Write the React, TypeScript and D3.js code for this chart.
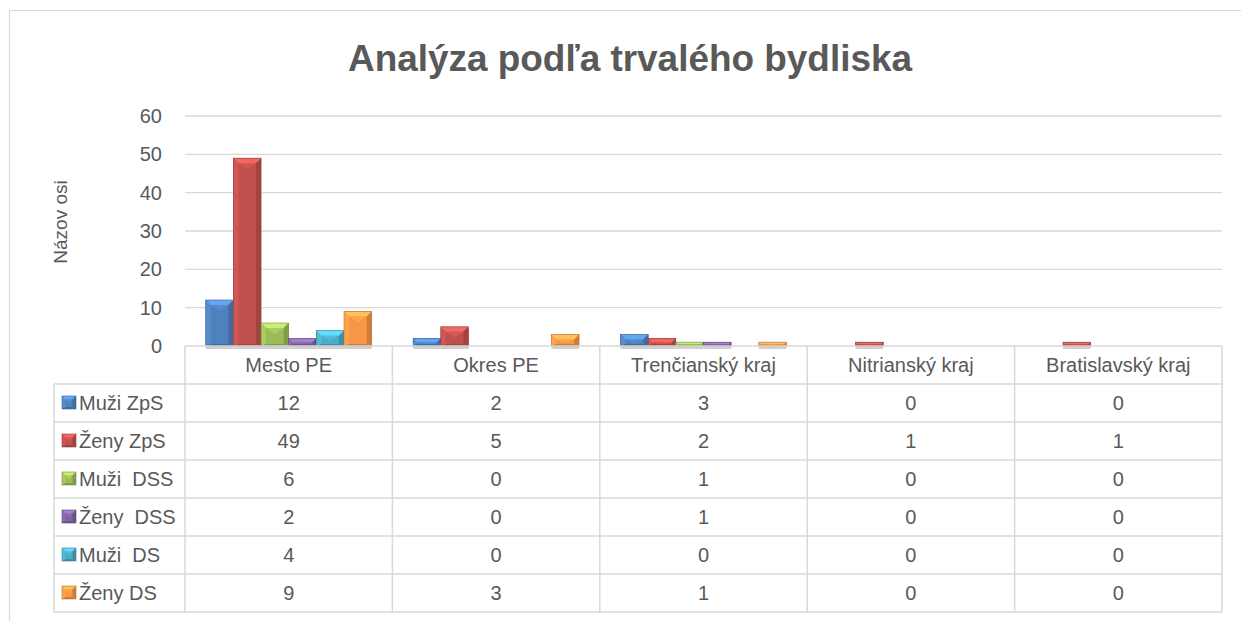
import React from "react";
import * as d3 from "d3";

const categories = ["Mesto PE", "Okres PE", "Trenčianský kraj", "Nitrianský kraj", "Bratislavský kraj"];
const seriesNames = ["Muži ZpS", "Ženy ZpS", "Muži  DSS", "Ženy  DSS", "Muži  DS", "Ženy DS"];
const mužiZpS = [12, 2, 3, 0, 0];
const ženyZpS = [49, 5, 2, 1, 1];
const mužiDSS = [6, 0, 1, 0, 0];
const ženyDSS = [2, 0, 1, 0, 0];
const mužiDS = [4, 0, 0, 0, 0];
const ženyDS = [9, 3, 1, 0, 0];
const seriesValues = [mužiZpS, ženyZpS, mužiDSS, ženyDSS, mužiDS, ženyDS];
const yTicks = [0, 10, 20, 30, 40, 50, 60];
const colors = ["#4F81BD", "#C0504D", "#9BBB59", "#8064A2", "#4BACC6", "#F79646"];

const W = 1241;
const H = 621;
const plotL = 185;
const plotR = 1222;
const plotT = 116;
const plotB = 346;
const rowH = 38;
const legendL = 54;
const textColor = "#595959";
const gridColor = "#d9d9d9";
const font = "'Liberation Sans', Arial, sans-serif";

function Bevel({ x, y, w, h, color }: { x: number; y: number; w: number; h: number; color: string }) {
  if (h <= 0) return null;
  const b = Math.min(5, w / 4, h / 2);
  const bb = Math.min(2, h / 3);
  const c = d3.color(color)!;
  const light = c.brighter(0.7).formatHex();
  const lighter = c.brighter(0.25).formatHex();
  const dark = c.darker(0.5).formatHex();
  const darker = c.darker(0.8).formatHex();
  const mid = c.brighter(0.35).formatHex();
  const pts = (arr: number[][]) => arr.map((p) => p.join(",")).join(" ");
  return (
    <g>
      <rect x={x} y={y} width={w} height={h} fill={color} />
      <polygon points={pts([[x, y], [x + w, y], [x + w - b, y + b], [x + b, y + b]])} fill={light} />
      <polygon points={pts([[x + b, y + b], [x + w - b, y + b], [x + w / 2, y + b + Math.min(b * 1.2, h / 3)]])} fill={mid} opacity={0.7} />
      <polygon points={pts([[x, y], [x + b, y + b], [x + b, y + h - bb], [x, y + h]])} fill={lighter} />
      <polygon points={pts([[x + w, y], [x + w - b, y + b], [x + w - b, y + h - bb], [x + w, y + h]])} fill={dark} />
      <polygon points={pts([[x, y + h], [x + b, y + h - bb], [x + w - b, y + h - bb], [x + w, y + h]])} fill={dark} />
      <rect x={x} y={y} width={w} height={h} fill="none" stroke={darker} strokeWidth={0.6} />
    </g>
  );
}

export default function App() {
  const y = d3.scaleLinear().domain([0, 60]).range([plotB, plotT]);
  const x0 = d3.scaleBand<string>().domain(categories).range([plotL, plotR]).paddingInner(0).paddingOuter(0);
  const x1 = d3
    .scaleBand<string>()
    .domain(seriesNames)
    .range([0, x0.bandwidth()])
    .paddingInner(0)
    .paddingOuter(0.75);

  const tableTop = plotB;
  const tableBottom = plotB + rowH * (seriesNames.length + 1);
  const fs = 20;

  return (
    <svg width={W} height={H} style={{ position: "absolute", left: 0, top: 0 }} fontFamily={font}>
      <rect x={0} y={0} width={W} height={H} fill="#fff" />
      <line x1={9} y1={10.5} x2={W} y2={10.5} stroke={gridColor} strokeWidth={1.2} />
      <line x1={9.5} y1={10} x2={9.5} y2={H} stroke={gridColor} strokeWidth={1.2} />

      <text x={630} y={71} textAnchor="middle" fontSize={37} fontWeight="bold" fill={textColor} textLength={564} lengthAdjust="spacingAndGlyphs">
        Analýza podľa trvalého bydliska
      </text>

      {yTicks.map((t) => (
        <g key={t}>
          {t > 0 && <line x1={plotL} x2={plotR} y1={y(t)} y2={y(t)} stroke={gridColor} strokeWidth={1.3} />}
          <text x={162} y={y(t) + 7} textAnchor="end" fontSize={fs} fill={textColor}>
            {t}
          </text>
        </g>
      ))}

      <text transform={`translate(67, 222) rotate(-90)`} textAnchor="middle" fontSize={19} fill={textColor}>
        Názov osi
      </text>

      {/* bar shadow line */}
      {categories.map((cat, ci) => (
        <g key={cat}>
          {seriesNames.map((s, si) => {
            const v = seriesValues[si][ci];
            if (v <= 0) return null;
            const bx = x0(cat)! + x1(s)!;
            return <rect key={s} x={bx} y={plotB} width={x1.bandwidth()} height={3} fill="#cfcfcf" />;
          })}
        </g>
      ))}

      {/* bars */}
      {categories.map((cat, ci) => (
        <g key={cat}>
          {seriesNames.map((s, si) => {
            const v = seriesValues[si][ci];
            if (v <= 0) return null;
            const bx = x0(cat)! + x1(s)!;
            const by = y(v);
            return <Bevel key={s} x={bx} y={by} w={x1.bandwidth()} h={plotB - by} color={colors[si]} />;
          })}
        </g>
      ))}

      {/* table */}
      <g stroke={gridColor} strokeWidth={1.5} fill="none">
        <line x1={plotL} x2={plotR} y1={plotB} y2={plotB} />
        {seriesNames.map((s, i) => (
          <line key={s} x1={legendL} x2={plotR} y1={tableTop + rowH * (i + 1)} y2={tableTop + rowH * (i + 1)} />
        ))}
        <line x1={legendL} x2={plotR} y1={tableBottom} y2={tableBottom} />
        <line x1={legendL} x2={legendL} y1={tableTop + rowH} y2={tableBottom} />
        {categories.map((c) => (
          <line key={c} x1={x0(c)!} x2={x0(c)!} y1={tableTop} y2={tableBottom} />
        ))}
        <line x1={plotR} x2={plotR} y1={tableTop} y2={tableBottom} />
      </g>

      {categories.map((c) => (
        <text key={c} x={x0(c)! + x0.bandwidth() / 2} y={tableTop + rowH / 2 + 7} textAnchor="middle" fontSize={fs} fill={textColor}>
          {c}
        </text>
      ))}

      {seriesNames.map((s, si) => {
        const ry = tableTop + rowH * (si + 1);
        return (
          <g key={s}>
            <Bevel x={62} y={ry + rowH / 2 - 7} w={14} h={13} color={colors[si]} />
            <text x={79} y={ry + rowH / 2 + 7} fontSize={fs} fill={textColor} style={{ whiteSpace: "pre" }}>
              {s}
            </text>
            {categories.map((c, ci) => (
              <text key={c} x={x0(c)! + x0.bandwidth() / 2} y={ry + rowH / 2 + 7} textAnchor="middle" fontSize={fs} fill={textColor}>
                {seriesValues[si][ci]}
              </text>
            ))}
          </g>
        );
      })}
    </svg>
  );
}
